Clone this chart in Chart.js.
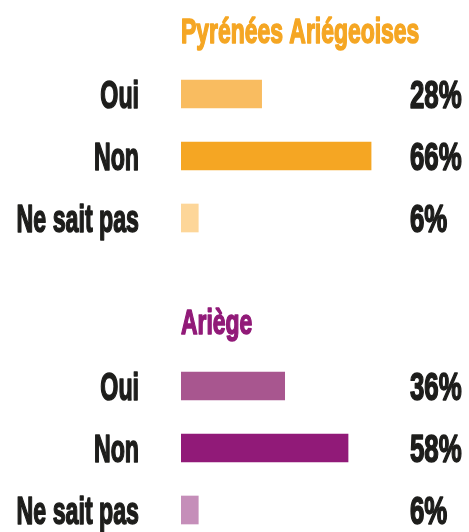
<!DOCTYPE html>
<html>
<head>
<meta charset="utf-8">
<script src="https://cdn.jsdelivr.net/npm/chart.js@4.4.1/dist/chart.umd.min.js"></script>
<style>
    html, body { margin: 0; padding: 0; background: #fff; overflow: hidden; width: 469px; height: 532px; }
    .box { position: absolute; left: 0; width: 469px; height: 266px; }
</style>
</head>
<body>
<div class="box" style="top:0"><canvas id="chartPyrenees"></canvas></div>
<div class="box" style="top:292px"><canvas id="chartAriege"></canvas></div>
<script>
const categories = ['Oui', 'Non', 'Ne sait pas'];
const pyreneesValues = [28, 66, 6];
const ariegeValues = [36, 58, 6];
const pyreneesTitle = 'Pyrénées Ariégeoises';
const ariegeTitle = 'Ariège';
const pyreneesColors = ['#f9bc60', '#f5a623', '#fdd699'];
const ariegeColors = ['#a8568f', '#911a78', '#c58eb9'];

// draw text squeezed horizontally to mimic the condensed typeface
function drawSqueezed(ctx, text, x, y, align, sx) {
    ctx.save();
    ctx.translate(x, y);
    ctx.scale(sx, 1);
    ctx.textAlign = align;
    ctx.lineWidth = 1.6;
    ctx.lineJoin = 'round';
    ctx.strokeStyle = ctx.fillStyle;
    ctx.strokeText(text, 0, 0);
    ctx.fillText(text, 0, 0);
    ctx.restore();
}

const sideText = {
    id: 'sideText',
    afterDatasetsDraw(chart, args, opts) {
        const ctx = chart.ctx;
        const yScale = chart.scales.y;
        const values = chart.data.datasets[0].data;
        ctx.save();
        ctx.textBaseline = 'alphabetic';
        ctx.fillStyle = '#1d1d1b';
        ctx.font = 'bold 38px "Liberation Sans"';
        chart.data.labels.forEach((label, i) => {
            const y = yScale.getPixelForValue(i) + 13.5;
            drawSqueezed(ctx, label, 139, y, 'right', 0.61);
            drawSqueezed(ctx, values[i] + '%', 410, y, 'left', 0.68);
        });
        // group title
        ctx.fillStyle = opts.color;
        ctx.font = 'bold 35px "Liberation Sans"';
        drawSqueezed(ctx, opts.text, chart.chartArea.left, opts.y, 'left', 0.655);
        ctx.restore();
    }
};

function makeChart(id, values, colors, title, titleColor, titleY) {
    return new Chart(document.getElementById(id), {
        type: 'bar',
        data: {
            labels: categories,
            datasets: [{
                data: values,
                backgroundColor: colors,
                borderWidth: 0,
                barThickness: 28
            }]
        },
        options: {
            indexAxis: 'y',
            responsive: true,
            maintainAspectRatio: false,
            animation: false,
            layout: { padding: { top: 63, bottom: 17, left: 181, right: 0 } },
            scales: {
                x: { display: false, min: 0, max: 100 },
                y: { display: false }
            },
            plugins: {
                legend: { display: false },
                tooltip: { enabled: false },
                sideText: { text: title, color: titleColor, y: titleY }
            }
        },
        plugins: [sideText]
    });
}

makeChart('chartPyrenees', pyreneesValues, pyreneesColors, pyreneesTitle, '#f5a623', 43);
makeChart('chartAriege', ariegeValues, ariegeColors, ariegeTitle, '#911a78', 41.5);
</script>
</body>
</html>
